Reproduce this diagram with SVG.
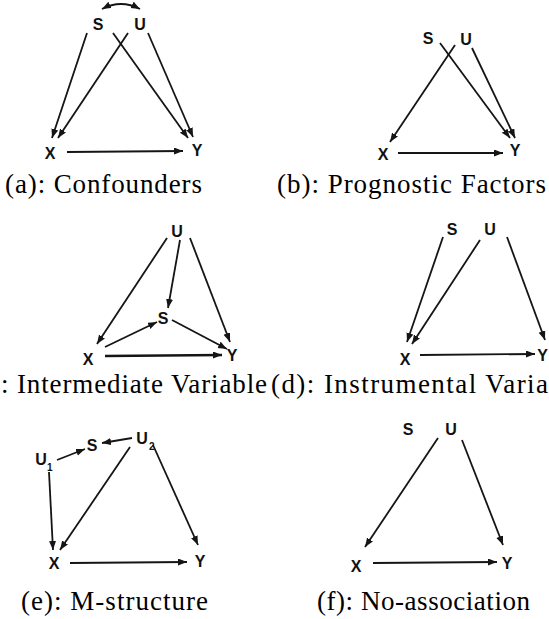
<svg xmlns="http://www.w3.org/2000/svg" width="549" height="619" viewBox="0 0 549 619">
<style>
.lbl{font-family:"Liberation Sans",Arial,sans-serif;font-weight:bold;font-size:16px;fill:#111;text-anchor:middle}
.sub{font-family:"Liberation Sans",Arial,sans-serif;font-weight:bold;font-size:10px;fill:#111}
.cap{font-family:"Liberation Serif","DejaVu Serif",serif;font-size:27px;fill:#000}
.e{fill:none;stroke:#151515;stroke-width:1.8;marker-end:url(#ah)}
</style>
<defs>
<marker id="ah" markerUnits="userSpaceOnUse" markerWidth="10" markerHeight="8" refX="9" refY="3.5" orient="auto-start-reverse" viewBox="0 0 10 8">
<path d="M0,0 L9,3.5 L0,7 z" fill="#151515"/>
</marker>
</defs>
<rect width="549" height="619" fill="#fff"/>
<g id="connectors">
<path class="e" d="M102,9 Q121,-1 140,9" style="marker-start:url(#ah)"/>
<line class="e" x1="87" y1="33" x2="52" y2="138"/>
<line class="e" x1="128" y1="33" x2="58" y2="138"/>
<line class="e" x1="113" y1="33" x2="188" y2="138"/>
<line class="e" x1="148" y1="33" x2="193" y2="137"/>
<line class="e" x1="67" y1="152" x2="183" y2="151"/>
<line class="e" x1="440" y1="43" x2="510" y2="138"/>
<line class="e" x1="455" y1="45" x2="390" y2="142"/>
<line class="e" x1="472" y1="48" x2="515" y2="138"/>
<line class="e" x1="398" y1="153" x2="503" y2="153"/>
<line class="e" x1="167" y1="238" x2="97" y2="344"/>
<line class="e" x1="180" y1="240" x2="168" y2="308"/>
<line class="e" x1="190" y1="238" x2="230" y2="342"/>
<line class="e" x1="105" y1="347" x2="157" y2="322"/>
<line class="e" x1="172" y1="320" x2="227" y2="349"/>
<line class="e" x1="105" y1="356" x2="222" y2="355" style="stroke-width:2.3"/>
<line class="e" x1="443" y1="237" x2="407" y2="342"/>
<line class="e" x1="480" y1="240" x2="412" y2="344"/>
<line class="e" x1="507" y1="237" x2="545" y2="340"/>
<line class="e" x1="420" y1="355" x2="535" y2="354"/>
<line class="e" x1="57" y1="460" x2="85" y2="449"/>
<line class="e" x1="132" y1="438" x2="102" y2="443"/>
<line class="e" x1="49" y1="472" x2="53" y2="550"/>
<line class="e" x1="130" y1="447" x2="60" y2="550"/>
<line class="e" x1="153" y1="445" x2="198" y2="545"/>
<line class="e" x1="70" y1="563" x2="187" y2="562"/>
<line class="e" x1="438" y1="438" x2="365" y2="547"/>
<line class="e" x1="462" y1="440" x2="503" y2="545"/>
<line class="e" x1="373" y1="563" x2="497" y2="562"/>
</g>
<g id="a-S"><text class="lbl" x="98" y="30">S</text></g>
<g id="a-U"><text class="lbl" x="140" y="30">U</text></g>
<g id="a-X"><text class="lbl" x="50" y="159">X</text></g>
<g id="a-Y"><text class="lbl" x="197" y="156">Y</text></g>
<g id="b-S"><text class="lbl" x="428" y="44">S</text></g>
<g id="b-U"><text class="lbl" x="466" y="45">U</text></g>
<g id="b-X"><text class="lbl" x="383" y="160">X</text></g>
<g id="b-Y"><text class="lbl" x="515" y="156">Y</text></g>
<g id="c-U"><text class="lbl" x="177" y="237">U</text></g>
<g id="c-S"><text class="lbl" x="163" y="324">S</text></g>
<g id="c-X"><text class="lbl" x="88" y="365">X</text></g>
<g id="c-Y"><text class="lbl" x="232" y="361">Y</text></g>
<g id="d-S"><text class="lbl" x="452" y="235">S</text></g>
<g id="d-U"><text class="lbl" x="490" y="235">U</text></g>
<g id="d-X"><text class="lbl" x="405" y="365">X</text></g>
<g id="d-Y"><text class="lbl" x="548" y="361" style="text-anchor:end">Y</text></g>
<g id="e-U1"><text class="lbl" x="41" y="465">U</text><text class="sub" x="47" y="471">1</text></g>
<g id="e-S"><text class="lbl" x="92" y="451">S</text></g>
<g id="e-U2"><text class="lbl" x="142" y="444">U</text><text class="sub" x="149" y="450">2</text></g>
<g id="e-X"><text class="lbl" x="54" y="569">X</text></g>
<g id="e-Y"><text class="lbl" x="200" y="567">Y</text></g>
<g id="f-S"><text class="lbl" x="408" y="435">S</text></g>
<g id="f-U"><text class="lbl" x="451" y="435">U</text></g>
<g id="f-X"><text class="lbl" x="356" y="572">X</text></g>
<g id="f-Y"><text class="lbl" x="507" y="569">Y</text></g>
<g id="captions">
<text class="cap" x="5" y="193" textLength="197" lengthAdjust="spacing">(a): Confounders</text>
<text class="cap" x="277" y="193" textLength="269" lengthAdjust="spacing">(b): Prognostic Factors</text>
<text class="cap" x="1" y="393" textLength="266" lengthAdjust="spacing">: Intermediate Variable</text>
<text class="cap" x="271" y="393" textLength="277" lengthAdjust="spacing">(d): Instrumental Varia</text>
<text class="cap" x="21" y="610" textLength="187" lengthAdjust="spacing">(e): M-structure</text>
<text class="cap" x="317" y="610" textLength="213" lengthAdjust="spacing">(f): No-association</text>
</g>
</svg>
